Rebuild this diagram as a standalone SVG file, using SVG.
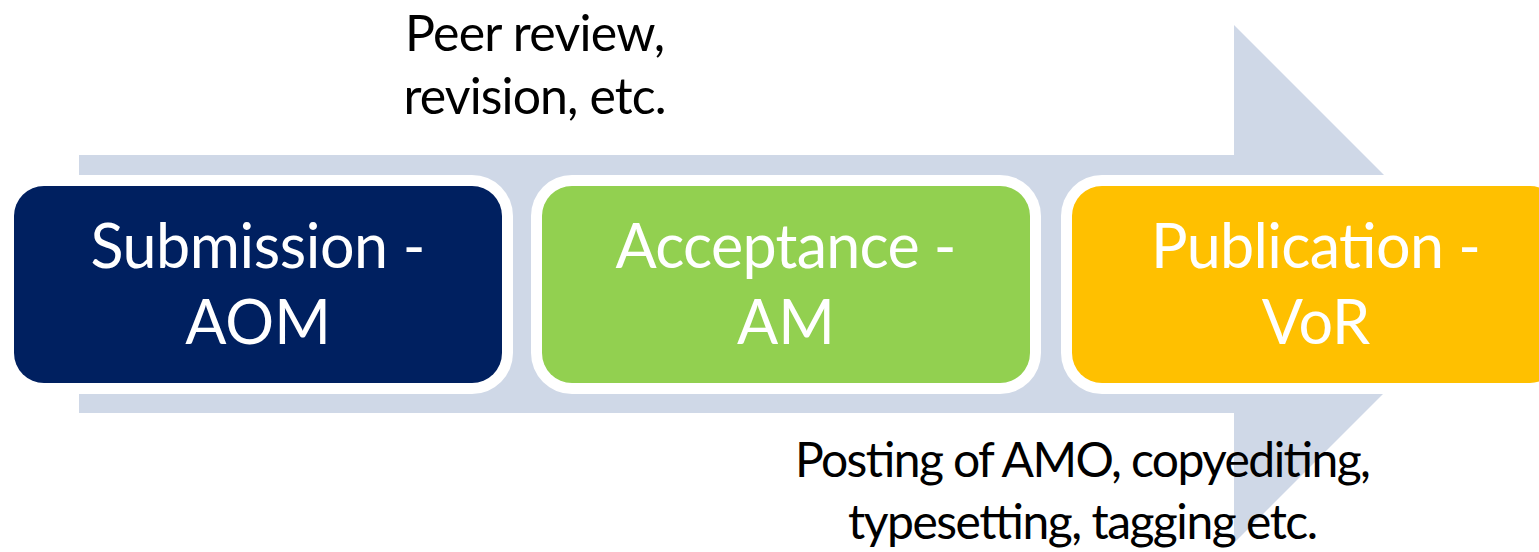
<svg xmlns="http://www.w3.org/2000/svg" width="1539" height="552" viewBox="0 0 1539 552">
<style>
.lbl{font-family:Lato,"Open Sans","Liberation Sans",sans-serif;fill:#000;font-size:50px;text-anchor:middle}
.lbl2{font-family:Lato,"Open Sans","Liberation Sans",sans-serif;fill:#000;font-size:48px;text-anchor:middle}
.box{font-family:Lato,"Open Sans","Liberation Sans",sans-serif;fill:#fff;font-size:61px;text-anchor:middle}
.halo{fill:#fff}
</style>
<rect width="1539" height="552" fill="#fff"/>
<g id="connectors">
<path id="flow-arrow" d="M79,155 H1234 V25 L1493,284 L1234,543 V413 H79 Z" fill="#cfd8e7"/>
</g>
<g id="submission">
<rect class="halo" x="3" y="175" width="510" height="219" rx="41"/>
<rect x="14" y="186" width="488" height="197" rx="30" fill="#002060"/>
<text class="box" x="258" y="268" textLength="335">Submission -</text>
<text class="box" x="258" y="344">AOM</text>
</g>
<g id="acceptance">
<rect class="halo" x="531" y="175" width="510" height="219" rx="41"/>
<rect x="542" y="186" width="488" height="197" rx="30" fill="#92d050"/>
<text class="box" x="786" y="268" textLength="341">Acceptance -</text>
<text class="box" x="786" y="344">AM</text>
</g>
<g id="publication">
<rect class="halo" x="1061" y="175" width="510" height="219" rx="41"/>
<rect x="1072" y="186" width="488" height="197" rx="30" fill="#ffc000"/>
<text class="box" x="1316" y="268" textLength="330">Publication -</text>
<text class="box" x="1316" y="344">VoR</text>
</g>
<g id="label-top">
<text class="lbl" x="535" y="51" textLength="260">Peer review,</text>
<text class="lbl" x="535" y="114" textLength="263">revision, etc.</text>
</g>
<g id="label-bottom">
<text class="lbl2" x="1083" y="477" textLength="576">Posting of AMO, copyediting,</text>
<text class="lbl2" x="1083" y="539" textLength="470">typesetting, tagging etc.</text>
</g>
</svg>
